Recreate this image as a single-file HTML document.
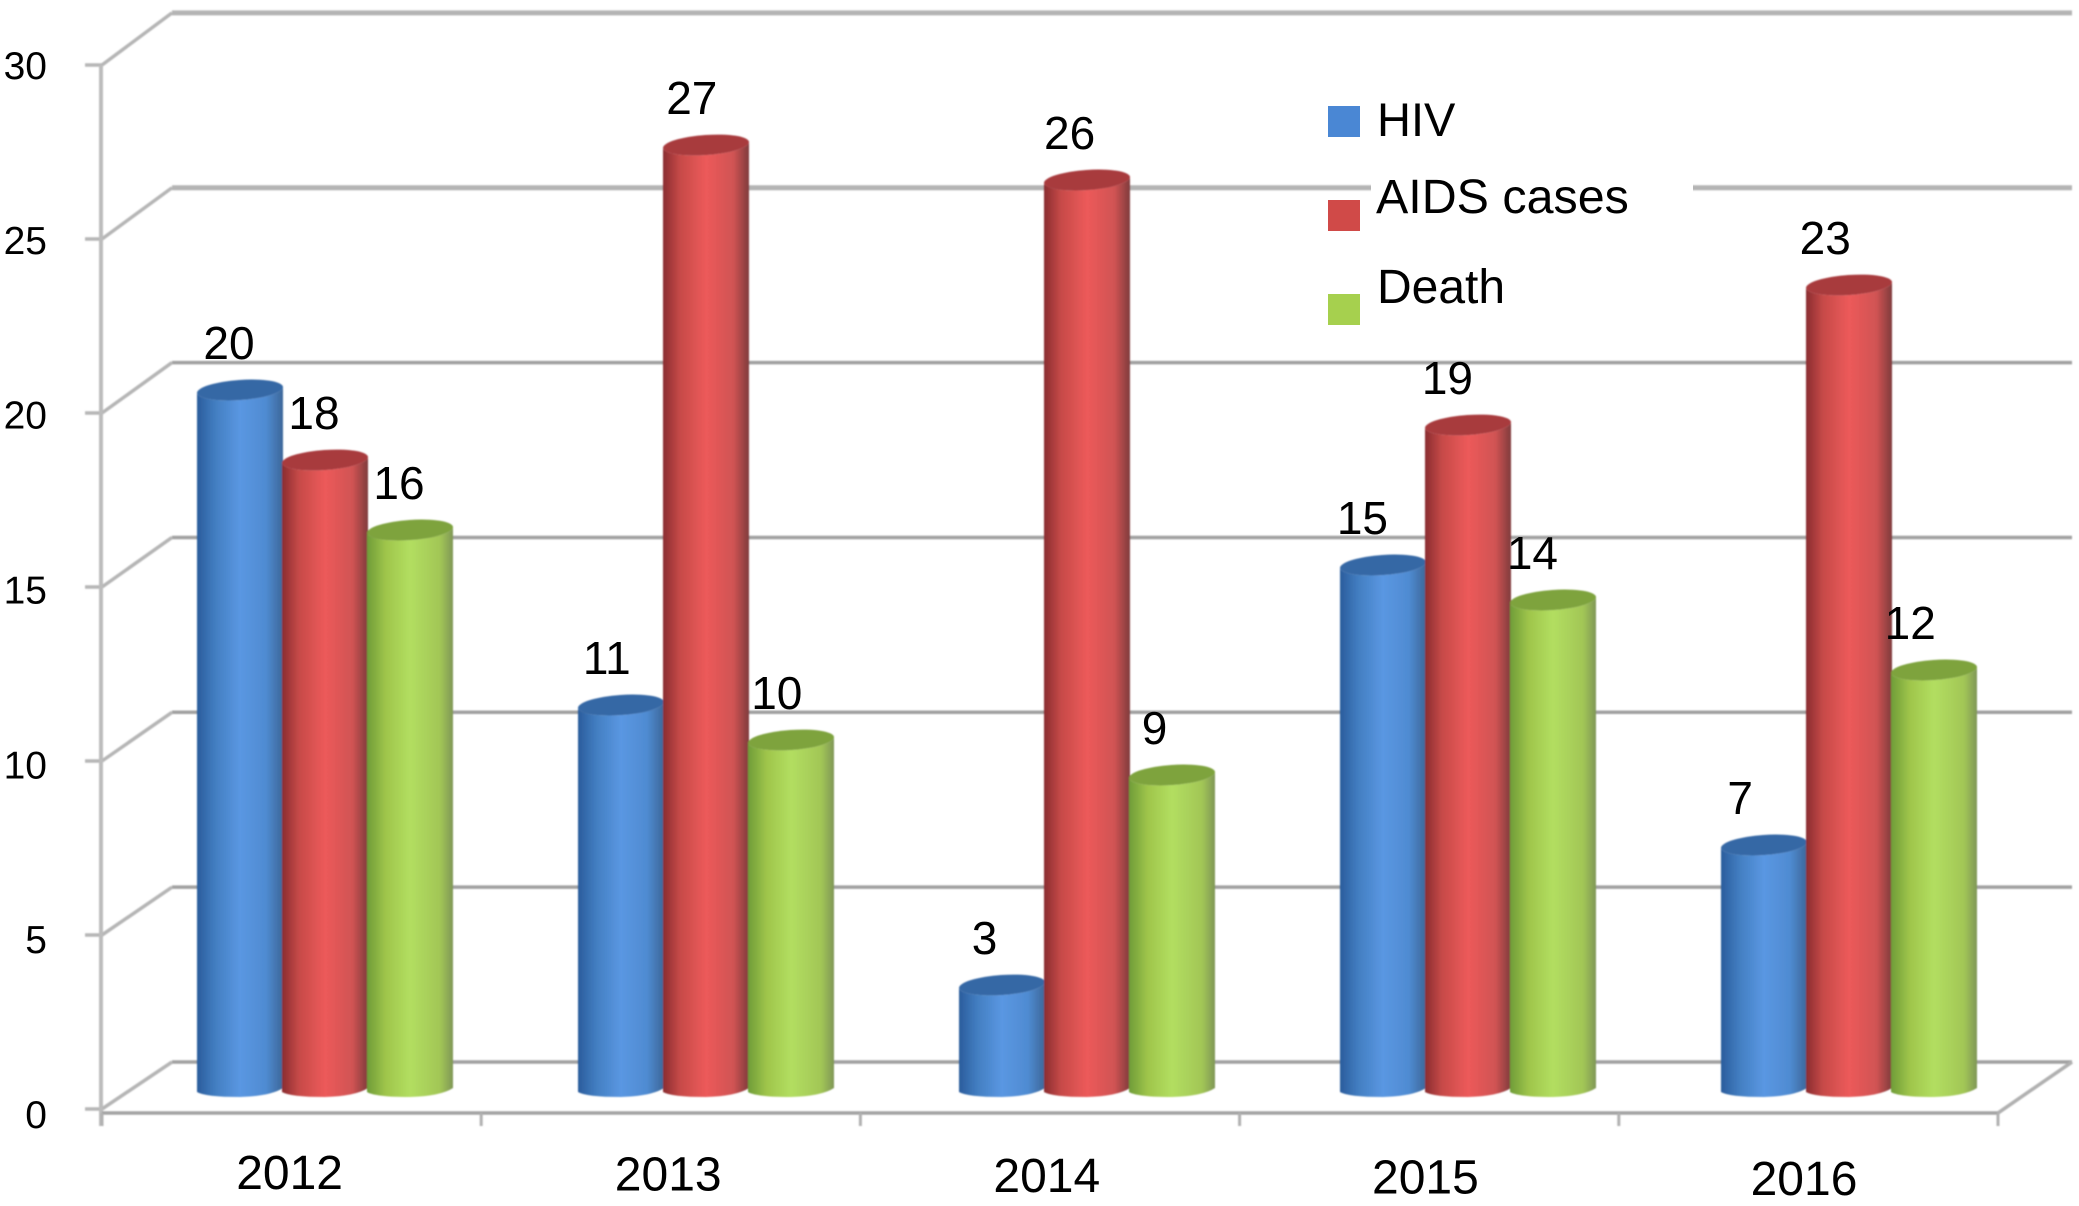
<!DOCTYPE html>
<html lang="en">
<head>
<meta charset="utf-8">
<title>HIV, AIDS cases and deaths by year</title>
<style>
  html, body { margin: 0; padding: 0; background: #fff; }
  #chart { position: absolute; left: 0; top: 0; width: 2079px; height: 1206px; display: block; }
  text { font-family: "Liberation Sans", Arial, sans-serif; fill: #000; }
</style>
</head>
<body>
<svg id="chart" xmlns="http://www.w3.org/2000/svg" width="2079" height="1206" viewBox="0 0 2079 1206">
  <defs>
    <linearGradient id="grad-hiv" x1="0" y1="0" x2="1" y2="0">
      <stop offset="0" stop-color="#2a5c9c"/><stop offset="0.22" stop-color="#437fc2"/>
      <stop offset="0.5" stop-color="#5a97e2"/><stop offset="0.8" stop-color="#4f8bd2"/>
      <stop offset="1" stop-color="#3c6799"/>
    </linearGradient>
    <linearGradient id="grad-aids" x1="0" y1="0" x2="1" y2="0">
      <stop offset="0" stop-color="#8a2c30"/><stop offset="0.2" stop-color="#c74a48"/>
      <stop offset="0.5" stop-color="#ec5a5a"/><stop offset="0.82" stop-color="#d05353"/>
      <stop offset="1" stop-color="#7f3b3c"/>
    </linearGradient>
    <linearGradient id="grad-death" x1="0" y1="0" x2="1" y2="0">
      <stop offset="0" stop-color="#6f9c38"/><stop offset="0.22" stop-color="#9fc54b"/>
      <stop offset="0.5" stop-color="#b2de60"/><stop offset="0.85" stop-color="#a2c656"/>
      <stop offset="1" stop-color="#7f9757"/>
    </linearGradient>
    <filter id="soft" x="-5%" y="-5%" width="110%" height="110%"><feGaussianBlur stdDeviation="0.9"/></filter>
  </defs>
  <g id="grid-layer" filter="url(#soft)"></g>
  <rect x="1371" y="165" width="322" height="45" fill="#fff"/>
  <g id="bar-layer" filter="url(#soft)"></g>
  <g id="text-layer"></g>
  <g>
    <g>
      <rect x="1328" y="106" width="32" height="31" fill="#4a87d4"/>
      <text x="1377" y="136" font-size="47">HIV</text>
    </g>
    <g>
      <rect x="1328" y="200" width="32" height="31" fill="#d04a48"/>
      <text x="1376" y="213" font-size="48.4">AIDS cases</text>
    </g>
    <g>
      <rect x="1328" y="294" width="32" height="31" fill="#a6d04e"/>
      <text x="1377" y="303" font-size="48">Death</text>
    </g>
  </g>
</svg>
<script>
const categories = ["2012", "2013", "2014", "2015", "2016"];
const hivValues = [20, 11, 3, 15, 7];
const aidsValues = [18, 27, 26, 19, 23];
const deathValues = [16, 10, 9, 14, 12];
const yTickLabels = [0, 5, 10, 15, 20, 25, 30];

const NS = "http://www.w3.org/2000/svg";
const gridLayer = document.getElementById("grid-layer");
const barLayer = document.getElementById("bar-layer");
const textLayer = document.getElementById("text-layer");

// Axis functions
const frontTickY = v => 1109 - v * 34.8;
const backGridY = v => 1062 - v * 34.97;
const tickLabelY = v => 1128 - v * 34.97;
const barTopY = v => 1081 - v * 35;
const BAR_BOTTOM = 1096;
const BAR_W = 86;
const barLeftX = (g, s) => 197 + g * 381 + s * 85;
const catTickX = i => 102 + i * 379.2;

function make(tag, attrs, parent) {
  const el = document.createElementNS(NS, tag);
  for (const k in attrs) el.setAttribute(k, attrs[k]);
  parent.appendChild(el);
  return el;
}

// Grid lines, wall diagonals, y ticks
yTickLabels.forEach(v => {
  const top = v >= 25;
  const grid = make("line", { x1: 172, y1: backGridY(v), x2: 2072, y2: backGridY(v), stroke: top ? "#b4b4b4" : "#a0a0a0", "stroke-width": top ? 5 : 3.5 }, gridLayer);
  
  
  const diag = make("line", { x1: 102, y1: frontTickY(v), x2: 172, y2: backGridY(v), stroke: "#b5b5b5", "stroke-width": 3.5 }, gridLayer);
  
  
  const tick = make("line", { x1: 85, y1: frontTickY(v), x2: 102, y2: frontTickY(v), stroke: "#b5b5b5", "stroke-width": 3.5 }, gridLayer);
  
  
  const label = make("text", { x: 47, y: tickLabelY(v), "text-anchor": "end", "font-size": 39 }, textLayer);
  label.textContent = v;
  
  
});

const yAxis = make("line", { x1: 101, y1: frontTickY(30), x2: 101, y2: 1126, stroke: "#bcbcbc", "stroke-width": 4 }, gridLayer);



const xAxis = make("line", { x1: 102, y1: 1113, x2: 1998, y2: 1113, stroke: "#a2a2a2", "stroke-width": 3.5 }, gridLayer);



const floorEdge = make("line", { x1: 1998, y1: 1113, x2: 2072, y2: 1062, stroke: "#b0b0b0", "stroke-width": 3.5 }, gridLayer);



for (let i = 0; i <= categories.length; i++) {
  const t = make("line", { x1: catTickX(i), y1: 1113, x2: catTickX(i), y2: 1126, stroke: "#b0b0b0", "stroke-width": 3 }, gridLayer);
  
  
}

categories.forEach((c, i) => {
  const t = make("text", { x: catTickX(i + 0.5) - 2 - i * 0.6, y: 1189 + i * 1.5, "text-anchor": "middle", "font-size": 48 }, textLayer);
  t.textContent = c;
  
  
});

// Cylinder bars
const seriesMeta = [
  { key: "hiv", values: hivValues, cap: "#3568a5" },
  { key: "aids", values: aidsValues, cap: "#a83a3d" },
  { key: "death", values: deathValues, cap: "#7ea33e" }
];

categories.forEach((c, g) => {
  seriesMeta.forEach((s, si) => {
    const v = s.values[g];
    const L = barLeftX(g, si);
    const R = L + BAR_W;
    const top = barTopY(v);
    const yL = top + 12;
    const yR = top + 6;
    const rx = BAR_W / 2;
    const body = make("path", {
      d: "M" + L + " " + yL + " L" + L + " " + (BAR_BOTTOM - 4) +
         " Q" + (L + 8) + " " + (BAR_BOTTOM + 1) + " " + (L + rx) + " " + (BAR_BOTTOM + 1) +
         " Q" + (R - 12) + " " + (BAR_BOTTOM) + " " + R + " " + (BAR_BOTTOM - 8) +
         " L" + R + " " + yR + " A" + rx + " 10 -4 0 1 " + L + " " + yL + " Z",
      fill: "url(#grad-" + s.key + ")"
    }, barLayer);
    
    
    const cap = make("path", {
      d: "M" + L + " " + yL + " A" + rx + " 10 -4 0 1 " + R + " " + yR + " A" + rx + " 10 -4 0 1 " + L + " " + yL + " Z",
      fill: s.cap
    }, barLayer);
    
    
    const lbl = make("text", { x: L + rx - 11 - g * 3.2, y: top - 22, "text-anchor": "middle", "font-size": 46 }, textLayer);
    lbl.textContent = v;
    
    
  });
});
</script>
</body>
</html>
